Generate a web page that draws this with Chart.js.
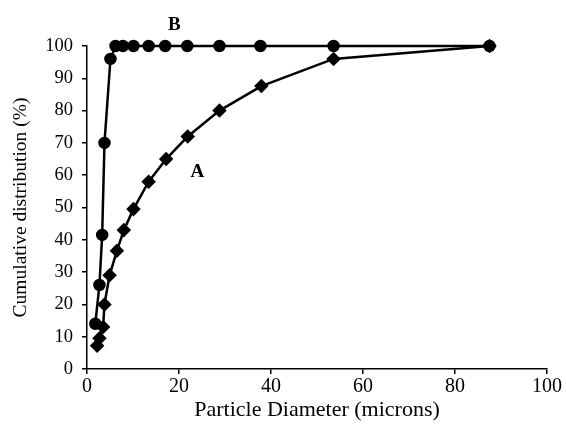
<!DOCTYPE html>
<html>
<head>
<meta charset="utf-8">
<script src="https://cdn.jsdelivr.net/npm/chart.js@4/dist/chart.umd.min.js"></script>
<style>
  html, body { margin: 0; padding: 0; background: #fff; }
  #wrap { width: 566px; height: 431px; }
</style>
</head>
<body>
<div id="wrap"><canvas id="myChart" width="566" height="431"></canvas></div>
<script>
// particle size data
const diameterA = [2.2, 2.7, 3.5, 3.8, 4.9, 6.5, 8.0, 10.1, 13.4, 17.2, 21.9, 28.8, 37.9, 53.6, 87.5];
const cumulativeA = [7.2, 9.5, 13, 20, 29, 36.6, 43, 49.5, 58, 65, 72, 80, 87.6, 96, 100];
const diameterB = [1.8, 2.7, 3.3, 3.8, 5.1, 6.2, 7.8, 10.1, 13.4, 17.0, 21.8, 28.8, 37.7, 53.6, 87.5];
const cumulativeB = [14, 26, 41.5, 70, 96, 100, 100, 100, 100, 100, 100, 100, 100, 100, 100];
const curveLabels = [
    { text: 'A', x: 24, y: 61 },
    { text: 'B', x: 19, y: 106.5 }
];

const serif = "'Liberation Serif', 'DejaVu Serif', serif";

function toPoints(xs, ys) {
    return xs.map(function(x, i) { return { x: x, y: ys[i] }; });
}

const labelPlugin = {
    id: 'curveLabels',
    afterDatasetsDraw: function(chart) {
        const ctx = chart.ctx;
        const xs = chart.scales.x, ys = chart.scales.y;
        ctx.save();
        ctx.fillStyle = '#000';
        ctx.font = 'bold 19px ' + serif;
        ctx.textAlign = 'center';
        ctx.textBaseline = 'middle';
        curveLabels.forEach(function(l) {
            ctx.fillText(l.text, xs.getPixelForValue(l.x), ys.getPixelForValue(l.y));
        });
        ctx.restore();
    }
};

new Chart(document.getElementById('myChart').getContext('2d'), {
    type: 'scatter',
    data: {
        datasets: [{
            label: 'A',
            data: toPoints(diameterA, cumulativeA),
            showLine: true,
            clip: false,
            borderColor: '#000',
            backgroundColor: '#000',
            borderWidth: 2.5,
            pointStyle: 'rectRot',
            pointRadius: 5.5,
            tension: 0
        }, {
            label: 'B',
            data: toPoints(diameterB, cumulativeB),
            showLine: true,
            clip: false,
            borderColor: '#000',
            backgroundColor: '#000',
            borderWidth: 2.5,
            pointStyle: 'circle',
            pointRadius: 5,
            tension: 0
        }]
    },
    options: {
        responsive: false,
        animation: false,
        layout: { padding: { left: 0, right: 19, top: 46, bottom: 0 } },
        plugins: { legend: { display: false }, tooltip: { enabled: false } },
        scales: {
            x: {
                type: 'linear',
                min: 0,
                max: 100,
                border: { color: '#000', width: 1.5 },
                grid: { drawOnChartArea: false, color: '#000', tickLength: 5, lineWidth: 1.5 },
                ticks: { stepSize: 20, color: '#000', padding: 1, maxRotation: 0, font: { family: serif, size: 20 } },
                title: { display: true, text: 'Particle Diameter (microns)', color: '#000', padding: { top: 0, bottom: 8 }, font: { family: serif, size: 22 } },
                afterFit: function(scale) { scale.height = 62; }
            },
            y: {
                min: 0,
                max: 100,
                border: { color: '#000', width: 1.5 },
                grid: { drawOnChartArea: false, color: '#000', tickLength: 5, lineWidth: 1.5 },
                ticks: { stepSize: 10, color: '#000', padding: 9, font: { family: serif, size: 18.5 } },
                title: { display: true, text: 'Cumulative distribution (%)', color: '#000', padding: { top: 9, bottom: 0 }, font: { family: serif, size: 19.5 } },
                afterFit: function(scale) { scale.width = 87; }
            }
        }
    },
    plugins: [labelPlugin]
});
</script>
</body>
</html>
